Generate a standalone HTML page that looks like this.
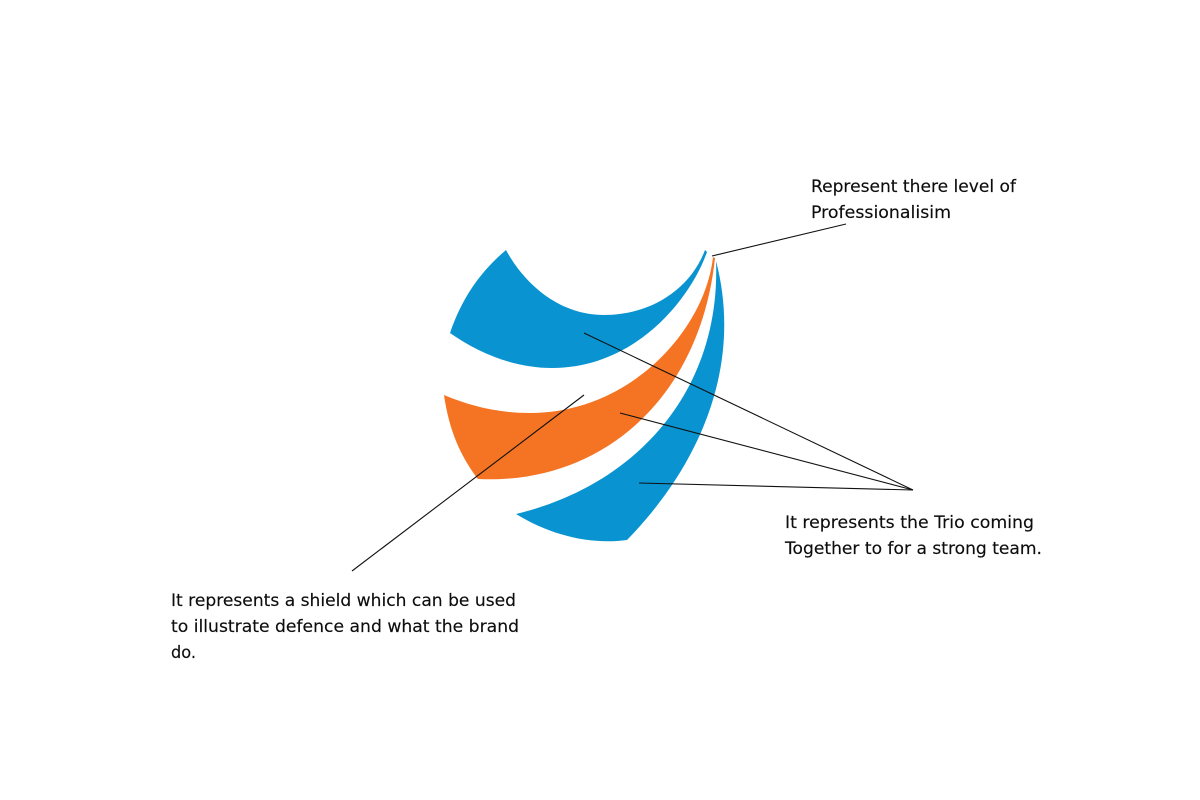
<!DOCTYPE html>
<html><head><meta charset="utf-8"><style>html,body{margin:0;padding:0;background:#fff}svg{display:block}text{font-family:"DejaVu Sans","Liberation Sans",sans-serif;font-size:17px;fill:#0d0d0d;stroke:#0d0d0d;stroke-width:.15px}</style></head>
<body><svg width="1200" height="800" viewBox="0 0 1200 800" xmlns="http://www.w3.org/2000/svg">
<rect width="1200" height="800" fill="#fff"/>
<path fill="#0994d1" d="M506 250C525 285 560 315 604 315C650 315 690 290 705 250L707 252C690 300 635 368 552 368C515 368 480 354 450 333C462 298 480 272 506 250Z"/>
<path fill="#f57423" d="M713 257C705 330 630 413 530 413C498 413 470 406 444 395C449 430 460 455 477 478L478 479C600 485 700 400 715 258Z"/>
<path fill="#0994d1" d="M716 261C721 390 637 485 516 514C550 535 590 545 627 540C705 460 742 360 716 261Z"/>
<g stroke="#111" stroke-width="1.1" fill="none">
<path d="M712 256L846 224"/>
<path d="M584 333L913 490"/>
<path d="M620 413L913 490"/>
<path d="M639 483L913 490"/>
<path d="M584 395L352 571"/>
</g>
<text x="811" y="192" textLength="205" lengthAdjust="spacingAndGlyphs">Represent there level of</text>
<text x="811" y="218" textLength="140" lengthAdjust="spacingAndGlyphs">Professionalisim</text>
<text x="785" y="528" textLength="249" lengthAdjust="spacingAndGlyphs">It represents the Trio coming</text>
<text x="785" y="554" textLength="257" lengthAdjust="spacingAndGlyphs">Together to for a strong team.</text>
<text x="171" y="606" textLength="345" lengthAdjust="spacingAndGlyphs">It represents a shield which can be used</text>
<text x="171" y="632" textLength="348" lengthAdjust="spacingAndGlyphs">to illustrate defence and what the brand</text>
<text x="171" y="658" textLength="25" lengthAdjust="spacingAndGlyphs">do.</text>
</svg></body></html>
